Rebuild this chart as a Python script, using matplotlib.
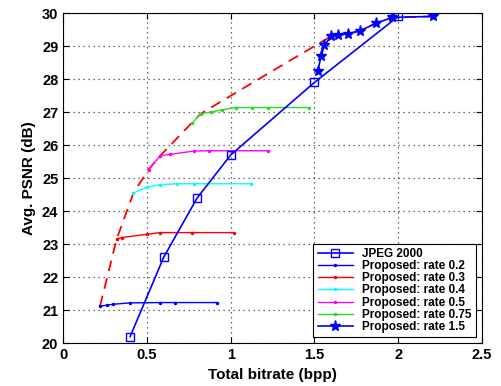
import numpy as np
import matplotlib
matplotlib.use("Agg")
import matplotlib.pyplot as plt

# JPEG 2000
jp_x = [0.40, 0.60, 0.80, 1.00, 1.50, 2.00]
jp_y = [20.2, 22.6, 24.4, 25.7, 27.9, 29.9]

# Proposed
r02_x = [0.22, 0.26, 0.30, 0.40, 0.58, 0.67, 0.92]
r02_y = [21.12, 21.15, 21.18, 21.22, 21.23, 21.23, 21.23]
r03_x = [0.32, 0.35, 0.50, 0.58, 0.77, 1.02]
r03_y = [23.16, 23.20, 23.30, 23.35, 23.35, 23.35]
r04_x = [0.42, 0.50, 0.58, 0.68, 0.78, 1.12]
r04_y = [24.55, 24.73, 24.80, 24.83, 24.83, 24.83]
r05_x = [0.51, 0.58, 0.64, 0.78, 0.87, 1.00, 1.22]
r05_y = [25.26, 25.68, 25.72, 25.82, 25.83, 25.83, 25.83]
r075_x = [0.77, 0.82, 0.88, 0.95, 1.03, 1.13, 1.22, 1.47]
r075_y = [26.66, 26.95, 27.00, 27.07, 27.14, 27.14, 27.14, 27.14]
r15_x = [1.52, 1.54, 1.56, 1.60, 1.64, 1.70, 1.77, 1.87, 1.965, 2.21]
r15_y = [28.25, 28.70, 29.03, 29.30, 29.33, 29.38, 29.46, 29.70, 29.87, 29.90]

# envelope (dashed)
env_x = [0.22, 0.32, 0.42, 0.51, 0.58, 0.82, 1.20, 1.60, 1.64, 1.70, 1.77, 1.87, 1.965, 2.21]
env_y = [21.12, 23.16, 24.55, 25.26, 25.68, 26.95, 28.10, 29.30, 29.33, 29.38, 29.46, 29.70, 29.87, 29.90]

plt.rcParams['font.family'] = ['Liberation Sans', 'DejaVu Sans']
plt.rcParams['font.weight'] = 'bold'

fig = plt.figure(figsize=(5.01, 3.86), dpi=100)
ax = fig.add_axes([0.126, 0.111, 0.836, 0.855])

ax.plot(env_x, env_y, color='red', lw=1.3, dashes=(6, 4), zorder=2)
ax.plot(jp_x, jp_y, '-s', color='blue', lw=1.2, ms=6, mfc='none', mew=1.0, label='JPEG 2000', zorder=3)
ax.plot(r02_x, r02_y, '.-', color='blue', lw=1.0, ms=3, label='Proposed: rate 0.2')
ax.plot(r03_x, r03_y, '.-', color='red', lw=1.0, ms=3, label='Proposed: rate 0.3')
ax.plot(r04_x, r04_y, '.-', color='cyan', lw=1.0, ms=3, label='Proposed: rate 0.4')
ax.plot(r05_x, r05_y, '.-', color='magenta', lw=1.0, ms=3, label='Proposed: rate 0.5')
ax.plot(r075_x, r075_y, '.-', color='#22dd22', lw=1.0, ms=3, label='Proposed: rate 0.75')
ax.plot(r15_x, r15_y, '*-', color='blue', lw=1.2, ms=8, label='Proposed: rate 1.5', zorder=4)

ax.set_xlim(0, 2.5)
ax.set_ylim(20, 30)
ax.set_xticks([0, 0.5, 1, 1.5, 2, 2.5])
ax.set_xticklabels(['0', '0.5', '1', '1.5', '2', '2.5'])
ax.set_yticks(np.arange(20, 31, 1))
ax.tick_params(direction='in', top=True, right=True, labelsize=10.5, length=4)
ax.grid(True, linestyle=(0, (1, 3)), color='0.25', lw=0.9)
ax.set_xlabel('Total bitrate (bpp)', fontsize=11, fontweight='bold')
ax.set_ylabel('Avg. PSNR (dB)', fontsize=11, fontweight='bold')

leg = ax.legend(loc='lower right', fontsize=8.5, fancybox=False, framealpha=1,
                edgecolor='black', borderpad=0.35, labelspacing=0.02, handlelength=3.0,
                borderaxespad=0.5)
leg.get_frame().set_linewidth(0.8)

fig.savefig('out.png', dpi=100)
